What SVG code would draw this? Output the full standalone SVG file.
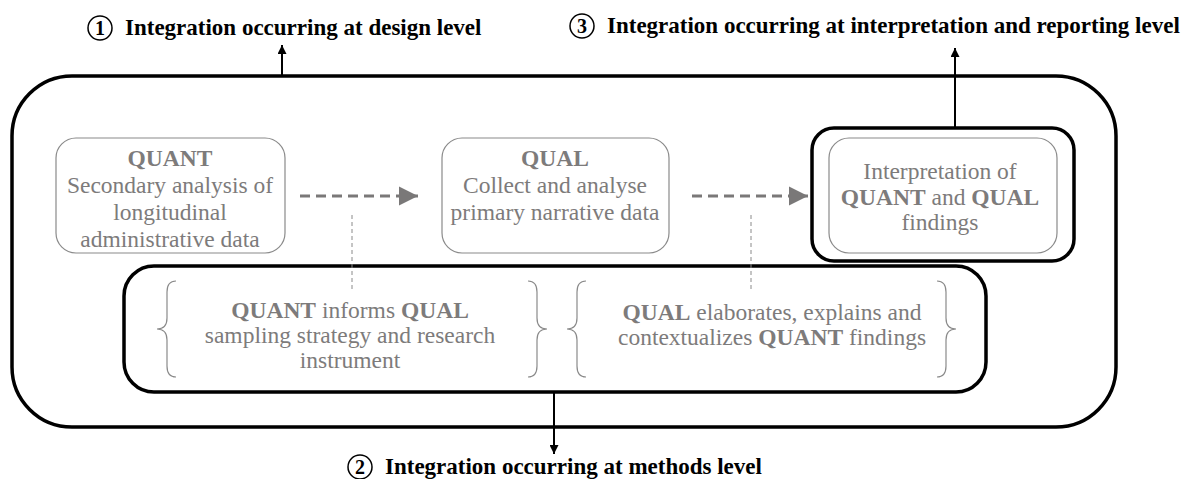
<svg xmlns="http://www.w3.org/2000/svg" width="1186" height="479" viewBox="0 0 1186 479">
  <style>
    .title { font-family: "Liberation Serif", "Times New Roman", serif; font-weight: bold; font-size: 23px; fill: #000; }
    .num { font-family: "Liberation Serif", "Times New Roman", serif; font-weight: bold; font-size: 20px; fill: #000; text-anchor: middle; }
    .body { font-family: "Liberation Serif", "Times New Roman", serif; font-size: 23.5px; fill: #7d7b7b; text-anchor: middle; }
    .b { font-weight: bold; }
    .thick { fill: none; stroke: #000; stroke-width: 3.5; }
    .soft { fill: #fff; stroke: #8a8a8a; stroke-width: 1.2; }
    .brace { fill: none; stroke: #8a8a8a; stroke-width: 1.2; }
    .flow { fill: none; stroke: #7a7878; stroke-width: 3; stroke-dasharray: 10 6; }
    .link { fill: none; stroke: #8a8a8a; stroke-width: 1; stroke-dasharray: 4 3; }
    .lead { fill: none; stroke: #000; stroke-width: 2; }
    .badge { fill: #fff; stroke: #000; stroke-width: 1.5; }
  </style>
  <defs>
    <marker id="flowHead" viewBox="0 0 10 10" refX="10" refY="5" markerWidth="6.5" markerHeight="6.5" markerUnits="strokeWidth" orient="auto">
      <path d="M0,0 L10,5 L0,10 Z" fill="#7a7878"/>
    </marker>
    <marker id="leadHead" viewBox="0 0 10 10" refX="10" refY="5" markerWidth="4.5" markerHeight="4.5" markerUnits="strokeWidth" orient="auto">
      <path d="M0,0 L10,5 L0,10 Z" fill="#000"/>
    </marker>
  </defs>

  <!-- overall design frame -->
  <g id="design-frame">
    <rect class="thick" x="12" y="76" width="1104" height="351" rx="60" ry="60"/>
  </g>

  <!-- level labels -->
  <g id="label-design">
    <circle class="badge" cx="100" cy="28" r="12"/>
    <text class="num" x="100" y="35">1</text>
    <text class="title" x="125" y="35">Integration occurring at design level</text>
  </g>
  <g id="label-interpretation">
    <circle class="badge" cx="582" cy="26" r="12"/>
    <text class="num" x="582" y="33">3</text>
    <text class="title" x="607" y="33">Integration occurring at interpretation and reporting level</text>
  </g>
  <g id="label-methods">
    <circle class="badge" cx="360" cy="467" r="12"/>
    <text class="num" x="360" y="474">2</text>
    <text class="title" x="385" y="474">Integration occurring at methods level</text>
  </g>

  <!-- QUANT phase -->
  <g id="quant">
    <rect class="soft" x="56" y="138" width="229" height="115" rx="20" ry="20"/>
    <text class="body" x="170" y="166"><tspan class="b">QUANT</tspan></text>
    <text class="body" x="170" y="193">Secondary analysis of</text>
    <text class="body" x="170" y="220">longitudinal</text>
    <text class="body" x="170" y="247">administrative data</text>
  </g>

  <!-- QUAL phase -->
  <g id="qual">
    <rect class="soft" x="442" y="138" width="227" height="115" rx="20" ry="20"/>
    <text class="body" x="555" y="166"><tspan class="b">QUAL</tspan></text>
    <text class="body" x="555" y="193">Collect and analyse</text>
    <text class="body" x="555" y="220">primary narrative data</text>
  </g>

  <!-- interpretation phase -->
  <g id="interpretation">
    <rect class="thick" x="812" y="128" width="262" height="133" rx="22" ry="22"/>
    <rect class="soft" x="829" y="138" width="228" height="115" rx="20" ry="20"/>
    <text class="body" x="940" y="179">Interpretation of</text>
    <text class="body" x="940" y="205"><tspan class="b">QUANT</tspan> and <tspan class="b">QUAL</tspan></text>
    <text class="body" x="940" y="230">findings</text>
  </g>

  <!-- methods-level integration -->
  <g id="methods">
    <rect class="thick" x="124" y="266" width="862" height="126" rx="30" ry="30"/>
  </g>
  <g id="quant-informs-qual">
    <path class="brace" d="M176,281 Q167,281 167,292 L167,318 Q167,329 157,329 Q167,329 167,340 L167,366 Q167,377 176,377"/>
    <path class="brace" d="M528,281 Q537,281 537,292 L537,318 Q537,329 547,329 Q537,329 537,340 L537,366 Q537,377 528,377"/>
    <text class="body" x="350" y="318"><tspan class="b">QUANT</tspan> informs <tspan class="b">QUAL</tspan></text>
    <text class="body" x="350" y="343">sampling strategy and research</text>
    <text class="body" x="350" y="368">instrument</text>
  </g>
  <g id="qual-explains-quant">
    <path class="brace" d="M586,281 Q577,281 577,292 L577,318 Q577,329 567,329 Q577,329 577,340 L577,366 Q577,377 586,377"/>
    <path class="brace" d="M937,281 Q946,281 946,292 L946,318 Q946,329 956,329 Q946,329 946,340 L946,366 Q946,377 937,377"/>
    <text class="body" x="772" y="320"><tspan class="b">QUAL</tspan> elaborates, explains and</text>
    <text class="body" x="772" y="345">contextualizes <tspan class="b">QUANT</tspan> findings</text>
  </g>

  <!-- connectors -->
  <g id="connectors">
    <line class="flow" x1="300" y1="196" x2="418" y2="196" marker-end="url(#flowHead)"/>
    <line class="flow" x1="692" y1="196" x2="808" y2="196" marker-end="url(#flowHead)"/>
    <line class="link" x1="352" y1="215" x2="352" y2="289"/>
    <line class="link" x1="751" y1="215" x2="751" y2="289"/>
    <line class="lead" x1="282" y1="76" x2="282" y2="45" marker-end="url(#leadHead)"/>
    <line class="lead" x1="955" y1="128" x2="955" y2="48" marker-end="url(#leadHead)"/>
    <line class="lead" x1="554" y1="392" x2="554" y2="454" marker-end="url(#leadHead)"/>
  </g>
</svg>
